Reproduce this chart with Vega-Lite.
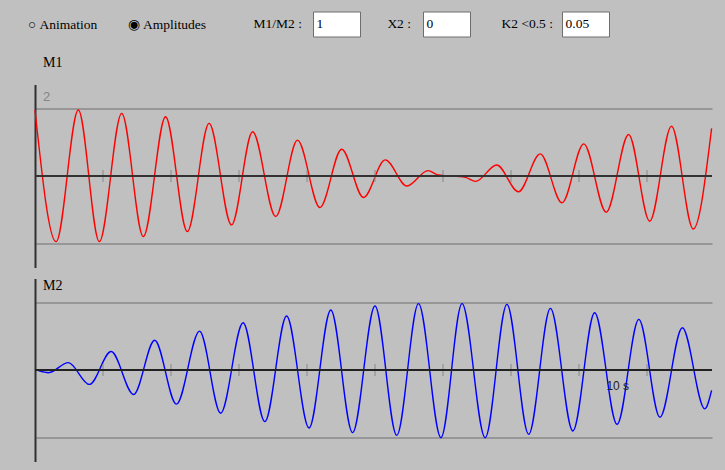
{
  "$schema": "https://vega.github.io/schema/vega-lite/v6.json",
  "background": "#c0c0c0",
  "padding": {"left": 28, "top": 10.5, "right": 13, "bottom": 8},
  "title": {
    "text": "○\u00a0Animation\u00a0\u00a0\u00a0\u00a0\u00a0\u00a0\u00a0\u00a0\u00a0◉\u00a0Amplitudes",
    "anchor": "start", "frame": "group", "orient": "top", "offset": -15,
    "baseline": "middle", "align": "left", "dx": -7, "dy": 12.5,
    "font": "Liberation Serif", "fontSize": 13.5, "fontWeight": "normal", "color": "#000000"
  },
  "config": {"view": {"stroke": null}},
  "datasets": {
    "m1": [
      {"t": 0, "v": 1.97}, {"t": 0.31, "v": -1.96}, {"t": 0.637, "v": 1.97}, {"t": 0.946, "v": -1.96},
      {"t": 1.275, "v": 1.87}, {"t": 1.593, "v": -1.81}, {"t": 1.92, "v": 1.77}, {"t": 2.24, "v": -1.66},
      {"t": 2.56, "v": 1.57}, {"t": 2.89, "v": -1.46}, {"t": 3.2, "v": 1.32}, {"t": 3.54, "v": -1.21},
      {"t": 3.86, "v": 1.07}, {"t": 4.19, "v": -0.94}, {"t": 4.51, "v": 0.8}, {"t": 4.83, "v": -0.64},
      {"t": 5.15, "v": 0.48}, {"t": 5.47, "v": -0.3}, {"t": 5.78, "v": 0.16}, {"t": 5.93, "v": 0.03},
      {"t": 6.33, "v": -0.04}, {"t": 6.48, "v": -0.16}, {"t": 6.79, "v": 0.33}, {"t": 7.11, "v": -0.47},
      {"t": 7.43, "v": 0.66}, {"t": 7.75, "v": -0.8}, {"t": 8.07, "v": 0.96}, {"t": 8.4, "v": -1.08},
      {"t": 8.73, "v": 1.24}, {"t": 9.04, "v": -1.35}, {"t": 9.36, "v": 1.49}, {"t": 9.68, "v": -1.58},
      {"t": 9.95, "v": 1.42}
    ],
    "m2": [
      {"t": 0.05, "v": -0.02}, {"t": 0.2, "v": -0.08}, {"t": 0.49, "v": 0.22}, {"t": 0.8, "v": -0.43},
      {"t": 1.12, "v": 0.55}, {"t": 1.45, "v": -0.73}, {"t": 1.76, "v": 0.89}, {"t": 2.08, "v": -1.02},
      {"t": 2.42, "v": 1.16}, {"t": 2.73, "v": -1.29}, {"t": 3.06, "v": 1.41}, {"t": 3.38, "v": -1.54},
      {"t": 3.7, "v": 1.61}, {"t": 4.03, "v": -1.73}, {"t": 4.35, "v": 1.79}, {"t": 4.67, "v": -1.87},
      {"t": 5.0, "v": 1.91}, {"t": 5.32, "v": -1.95}, {"t": 5.64, "v": 1.98}, {"t": 5.97, "v": -2.02},
      {"t": 6.28, "v": 1.98}, {"t": 6.62, "v": -2.02}, {"t": 6.94, "v": 1.96}, {"t": 7.26, "v": -1.92},
      {"t": 7.58, "v": 1.84}, {"t": 7.91, "v": -1.82}, {"t": 8.23, "v": 1.71}, {"t": 8.56, "v": -1.62},
      {"t": 8.88, "v": 1.51}, {"t": 9.19, "v": -1.41}, {"t": 9.52, "v": 1.26}, {"t": 9.85, "v": -1.16},
      {"t": 9.95, "v": -0.61}
    ],
    "ticks": [{"t": 1}, {"t": 2}, {"t": 3}, {"t": 4}, {"t": 5}, {"t": 6}, {"t": 7}, {"t": 8}, {"t": 9}]
  },
  "vconcat": [
    {
      "bounds": "flush",
      "spacing": 0,
      "hconcat": [
        {"width": 278, "height": 25, "data": {"values": [{"v": ""}]}, "mark": {"type": "text"}, "encoding": {"text": {"field": "v"}}},
        {
          "width": 47, "height": 25,
          "view": {"fill": "#ffffff", "stroke": "#6e6e6e", "strokeWidth": 1},
          "title": {"text": "M1/M2 :", "orient": "left", "angle": 0, "anchor": "middle", "align": "left", "baseline": "middle", "offset": 11, "font": "Liberation Serif", "fontSize": 13.5, "fontWeight": "normal", "color": "#000000"},
          "data": {"values": [{"v": "1"}]},
          "mark": {"type": "text", "align": "left", "baseline": "middle", "dx": -20, "font": "Liberation Serif", "fontSize": 13.5, "color": "#000000"},
          "encoding": {"text": {"field": "v"}}
        },
        {"width": 63, "height": 25, "data": {"values": [{"v": ""}]}, "mark": {"type": "text"}, "encoding": {"text": {"field": "v"}}},
        {
          "width": 47, "height": 25,
          "view": {"fill": "#ffffff", "stroke": "#6e6e6e", "strokeWidth": 1},
          "title": {"text": "X2 :", "orient": "left", "angle": 0, "anchor": "middle", "align": "left", "baseline": "middle", "offset": 12, "font": "Liberation Serif", "fontSize": 13.5, "fontWeight": "normal", "color": "#000000"},
          "data": {"values": [{"v": "0"}]},
          "mark": {"type": "text", "align": "left", "baseline": "middle", "dx": -20, "font": "Liberation Serif", "fontSize": 13.5, "color": "#000000"},
          "encoding": {"text": {"field": "v"}}
        },
        {"width": 92, "height": 25, "data": {"values": [{"v": ""}]}, "mark": {"type": "text"}, "encoding": {"text": {"field": "v"}}},
        {
          "width": 47, "height": 25,
          "view": {"fill": "#ffffff", "stroke": "#6e6e6e", "strokeWidth": 1},
          "title": {"text": "K2 <0.5 :", "orient": "left", "angle": 0, "anchor": "middle", "align": "left", "baseline": "middle", "offset": 9, "font": "Liberation Serif", "fontSize": 13.5, "fontWeight": "normal", "color": "#000000"},
          "data": {"values": [{"v": "0.05"}]},
          "mark": {"type": "text", "align": "left", "baseline": "middle", "dx": -20, "font": "Liberation Serif", "fontSize": 13.5, "color": "#000000"},
          "encoding": {"text": {"field": "v"}}
        }
      ]
    },
    {
      "bounds": "flush",
      "spacing": 11,
      "vconcat": [
        {
          "width": 677, "height": 183,
          "layer": [
            {
              "data": {"name": "m1"},
              "mark": {"type": "line", "color": "#ff0000", "strokeWidth": 1.4, "interpolate": "monotone"},
              "encoding": {
                "x": {"field": "t", "type": "quantitative", "scale": {"domain": [0, 9.956], "nice": false, "zero": false}, "axis": null},
                "y": {"field": "v", "type": "quantitative", "scale": {"domain": [-2.731, 2.731], "nice": false},
                  "axis": {"title": null, "labels": false, "ticks": false, "domain": true, "domainColor": "#303030", "domainWidth": 2, "grid": true, "values": [-2, 2], "gridColor": "#8a8a8a", "gridWidth": 1.5}}
              }
            },
            {
              "data": {"name": "ticks"},
              "mark": {"type": "tick", "orient": "vertical", "color": "#8a8a8a", "size": 12, "thickness": 1.5},
              "encoding": {"x": {"field": "t", "type": "quantitative"}, "y": {"datum": 0}}
            },
            {
              "data": {"values": [{}]},
              "mark": {"type": "rule", "color": "#333333", "strokeWidth": 2},
              "encoding": {"y": {"datum": 0}}
            },
            {
              "data": {"values": [{"label": "M1"}]},
              "mark": {"type": "text", "align": "left", "baseline": "middle", "dx": 8, "dy": -22, "font": "Liberation Serif", "fontSize": 14, "color": "#000000"},
              "encoding": {"x": {"datum": 0}, "y": {"datum": 2.731}, "text": {"field": "label"}}
            },
            {
              "data": {"values": [{"label": "2"}]},
              "mark": {"type": "text", "align": "left", "baseline": "middle", "dx": 8, "dy": -12, "font": "Liberation Sans", "fontSize": 13, "color": "#858585"},
              "encoding": {"x": {"datum": 0}, "y": {"datum": 2}, "text": {"field": "label"}}
            }
          ]
        },
        {
          "width": 677, "height": 183,
          "layer": [
            {
              "data": {"name": "m2"},
              "mark": {"type": "line", "color": "#0000ff", "strokeWidth": 1.4, "interpolate": "monotone"},
              "encoding": {
                "x": {"field": "t", "type": "quantitative", "scale": {"domain": [0, 9.956], "nice": false, "zero": false}, "axis": null},
                "y": {"field": "v", "type": "quantitative", "scale": {"domain": [-2.731, 2.731], "nice": false},
                  "axis": {"title": null, "labels": false, "ticks": false, "domain": true, "domainColor": "#303030", "domainWidth": 2, "grid": true, "values": [-2, 2], "gridColor": "#8a8a8a", "gridWidth": 1.5}}
              }
            },
            {
              "data": {"name": "ticks"},
              "mark": {"type": "tick", "orient": "vertical", "color": "#8a8a8a", "size": 12, "thickness": 1.5},
              "encoding": {"x": {"field": "t", "type": "quantitative"}, "y": {"datum": 0}}
            },
            {
              "data": {"values": [{}]},
              "mark": {"type": "rule", "color": "#222222", "strokeWidth": 2},
              "encoding": {"y": {"datum": 0}}
            },
            {
              "data": {"values": [{"label": "M2"}]},
              "mark": {"type": "text", "align": "left", "baseline": "middle", "dx": 8, "dy": 7, "font": "Liberation Serif", "fontSize": 14, "color": "#000000"},
              "encoding": {"x": {"datum": 0}, "y": {"datum": 2.731}, "text": {"field": "label"}}
            },
            {
              "data": {"values": [{"label": "10 s"}]},
              "mark": {"type": "text", "align": "center", "baseline": "middle", "dy": 16, "font": "Liberation Sans", "fontSize": 12, "color": "#222222"},
              "encoding": {"x": {"datum": 8.57}, "y": {"datum": 0}, "text": {"field": "label"}}
            }
          ]
        }
      ]
    }
  ],
  "spacing": 73,
  "bounds": "flush"
}
